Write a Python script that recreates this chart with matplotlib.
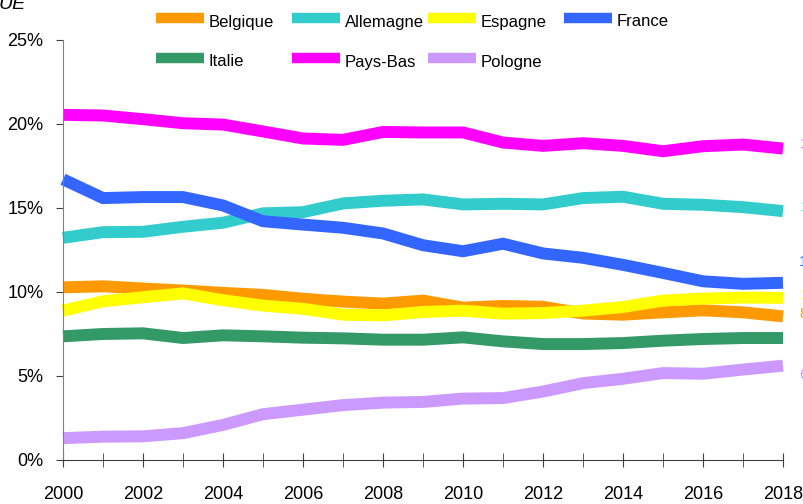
import numpy as np
import matplotlib
matplotlib.use("Agg")
import matplotlib.pyplot as plt
from matplotlib.lines import Line2D
from matplotlib.ticker import PercentFormatter, MultipleLocator

years = np.arange(2000, 2019)

belgique = [10.26, 10.32, 10.19, 10.07, 9.93, 9.81, 9.58, 9.41, 9.29, 9.47, 9.05,
            9.15, 9.10, 8.70, 8.63, 8.77, 8.89, 8.77, 8.53]
allemagne = [13.21, 13.55, 13.57, 13.87, 14.11, 14.67, 14.74, 15.26, 15.42, 15.50, 15.20,
             15.24, 15.20, 15.58, 15.66, 15.24, 15.18, 15.04, 14.80]
espagne = [8.87, 9.43, 9.67, 9.90, 9.49, 9.17, 8.98, 8.63, 8.59, 8.79, 8.87,
           8.69, 8.73, 8.87, 9.09, 9.47, 9.59, 9.65, 9.63]
france = [16.70, 15.58, 15.64, 15.64, 15.14, 14.20, 14.00, 13.81, 13.47, 12.77, 12.41,
          12.86, 12.28, 12.02, 11.60, 11.12, 10.62, 10.47, 10.53]
italie = [7.34, 7.48, 7.52, 7.24, 7.40, 7.34, 7.26, 7.22, 7.14, 7.14, 7.28,
          7.04, 6.88, 6.88, 6.94, 7.08, 7.18, 7.24, 7.24]
pays_bas = [20.54, 20.50, 20.28, 20.04, 19.96, 19.55, 19.13, 19.05, 19.52, 19.49, 19.49,
            18.89, 18.69, 18.85, 18.69, 18.37, 18.67, 18.77, 18.53]
pologne = [1.27, 1.36, 1.38, 1.57, 2.06, 2.70, 2.97, 3.24, 3.39, 3.43, 3.63,
           3.66, 4.05, 4.55, 4.81, 5.15, 5.11, 5.36, 5.59]

names = ["Belgique", "Allemagne", "Espagne", "France", "Italie", "Pays-Bas", "Pologne"]
series = [belgique, allemagne, espagne, france, italie, pays_bas, pologne]
colors = ["#FF9900", "#33CCCC", "#FFFF00", "#3366FF", "#339966", "#FF00FF", "#CC99FF"]

# end labels, mostly cut off by the right edge in the original
end_labels = ["8%", "15%", "10%", "10%", None, "19%", "6%"]

plt.rcParams['font.family'] = ['Liberation Sans', 'DejaVu Sans']
FS = 12

fig = plt.figure(figsize=(8.04, 5.04), dpi=100)
W, H = 804, 504
ax = fig.add_axes([63 / W, 1 - 459.5 / H, 720 / W, 419.5 / H])

for name, vals, c in zip(names, series, colors):
    ax.plot(years, vals, color=c, lw=8.6, solid_capstyle='butt',
            solid_joinstyle='miter', label=name, clip_on=False)

ax.set_xlim(2000, 2018)
ax.set_ylim(0, 25)
ax.yaxis.set_major_locator(MultipleLocator(5))
ax.yaxis.set_major_formatter(PercentFormatter(decimals=0))
ax.xaxis.set_major_locator(MultipleLocator(2))
ax.xaxis.set_minor_locator(MultipleLocator(1))

for s in ["top", "right"]:
    ax.spines[s].set_visible(False)
ax.spines["left"].set_color("#808080")
ax.spines["bottom"].set_color("#404040")
ax.tick_params(axis='y', direction='out', length=5, color='#404040', pad=9, labelsize=FS + 1)
ax.tick_params(axis='x', which='both', direction='inout', length=10, color='#404040',
               pad=14, labelsize=FS + 1)

# legend laid out like the Excel one: 4 equal columns, 2 rows
for i, (name, c) in enumerate(zip(names, colors)):
    col, row = i % 4, i // 4
    x0 = 156 + 136 * col
    y0 = 18 + 40 * row
    fig.add_artist(Line2D([x0 / W, (x0 + 48) / W], [1 - y0 / H, 1 - y0 / H],
                          transform=fig.transFigure, color=c, lw=7.5,
                          solid_capstyle='butt'))
    fig.text((x0 + 53) / W, 1 - (y0 + 4) / H, name, ha='left', va='center', fontsize=FS)

# partially visible text at the edges
fig.text(-0.002, 1 - 9 / H, "UE", ha='left', va='baseline', fontsize=FS + 2, style='italic')
end_y = [314, 207, 295, 262, None, 144, 375]
end_x = [799, 801, 801, 799, None, 801, 799]
for lab, yy, xx, c in zip(end_labels, end_y, end_x, colors):
    if lab is None:
        continue
    fig.text(xx / W, 1 - yy / H, lab, color=c, ha='left', va='center', fontsize=11)

fig.savefig("out.png", dpi=100)
